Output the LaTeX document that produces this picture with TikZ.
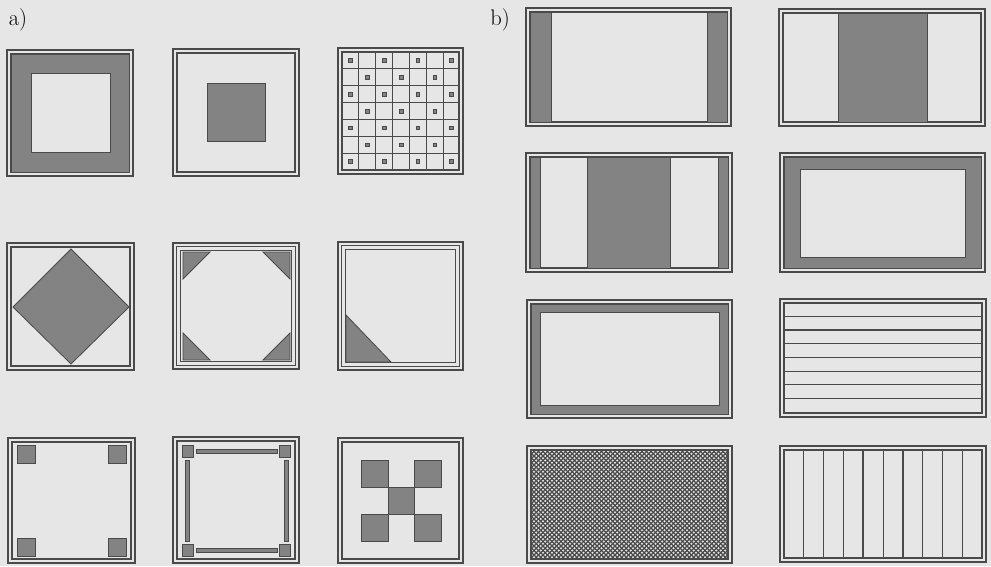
\documentclass[tikz,border=0pt]{standalone}
\usepackage{tikz}
\definecolor{paper}{HTML}{E6E6E6}
\definecolor{ink}{HTML}{4A4A4A}
\definecolor{shade}{HTML}{838383}
\tikzset{
  fline/.style={draw=ink, line width=0.75pt},
  gpart/.style={fill=shade, draw=ink, line width=0.6pt},
  wpart/.style={fill=paper, draw=ink, line width=0.6pt},
  thinrule/.style={draw=ink, line width=0.6pt},
  thickrule/.style={draw=ink, line width=1.1pt},
  hatchline/.style={draw=ink, line width=0.85pt},
  plabel/.style={font=\fontsize{16}{18}\selectfont, inner sep=0pt},
}
% double and triple frame round each panel
\newcommand{\frameII}[4]{%
  \draw[fline] (#1,#2) rectangle (#3,#4);
  \draw[fline] (#1+4,#2+4) rectangle (#3-4,#4-4);}
\newcommand{\frameIII}[4]{%
  \draw[fline] (#1,#2) rectangle (#3,#4);
  \draw[fline] (#1+3.7,#2+3.7) rectangle (#3-3.7,#4-3.7);
  \draw[fline] (#1+7.4,#2+7.4) rectangle (#3-7.4,#4-7.4);}
\begin{document}
\begin{tikzpicture}[x=0.025cm, y=-0.025cm]
  \useasboundingbox (0,0) rectangle (991,566);
  \fill[paper] (0,0) rectangle (991,566);
  \node[plabel] (la) at (18,20) {a)};
  \node[plabel] (lb) at (500,20) {b)};

  % --- a) row 1
  \frameII{7}{50}{133}{176}
  \draw[gpart] (11,54) rectangle (129,172);
  \draw[wpart] (31,73) rectangle (110,152);

  \frameII{173}{49}{299}{176}
  \draw[gpart] (207,83) rectangle (265,141);

  \frameII{338}{48}{463}{174}
  \foreach \i in {1,...,6} {
    \draw[thinrule] (342+\i*16.86,52) -- (342+\i*16.86,170);
    \draw[thinrule] (342,52+\i*16.86) -- (459,52+\i*16.86);
  }
  \foreach \i in {0,...,6}
    \foreach \j in {0,...,6} {
      \pgfmathtruncatemacro{\odd}{mod(\i+\j,2)}
      \ifnum\odd=0
        \draw[gpart, line width=0.4pt] (350.4+\i*16.86-1.8,60.4+\j*16.86-1.8) rectangle ++(3.6,3.6);
      \fi
    }

  % --- a) row 2
  \frameII{7}{243}{134}{370}
  \draw[gpart] (71,249) -- (129,307) -- (71,364) -- (13,307) -- cycle;

  \frameIII{173}{243}{299}{369}
  \draw[gpart] (183,252) -- (210,252) -- (183,279) -- cycle;
  \draw[gpart] (263,252) -- (290,252) -- (290,279) -- cycle;
  \draw[gpart] (183,333) -- (183,360) -- (210,360) -- cycle;
  \draw[gpart] (290,333) -- (290,360) -- (263,360) -- cycle;

  \frameIII{338}{242}{463}{370}
  \draw[gpart] (346,315) -- (346,362) -- (391,362) -- cycle;

  % --- a) row 3
  \frameII{8}{438}{135}{563}
  \draw[gpart] (17,445) rectangle (35,463);
  \draw[gpart] (108,445) rectangle (126,463);
  \draw[gpart] (17,538) rectangle (35,556);
  \draw[gpart] (108,538) rectangle (126,556);

  \frameII{173}{437}{299}{563}
  \draw[gpart] (182,445) rectangle (193,457);
  \draw[gpart] (279,445) rectangle (290,457);
  \draw[gpart] (182,544) rectangle (193,556);
  \draw[gpart] (279,544) rectangle (290,556);
  \draw[gpart] (196,449) rectangle (277,453);
  \draw[gpart] (196,548) rectangle (277,552);
  \draw[gpart] (185,460) rectangle (189,541);
  \draw[gpart] (284,460) rectangle (288,541);

  \frameII{338}{438}{463}{563}
  \draw[gpart] (361,460) rectangle (388,487);
  \draw[gpart] (414,460) rectangle (441,487);
  \draw[gpart] (388,487) rectangle (414,514);
  \draw[gpart] (361,514) rectangle (388,541);
  \draw[gpart] (414,514) rectangle (441,541);

  % --- b) column 1
  \frameII{526}{8}{731}{126}
  \draw[gpart] (530,12) rectangle (551,122);
  \draw[gpart] (707,12) rectangle (727,122);

  \frameII{526}{153}{732}{272}
  \draw[gpart] (530,157) rectangle (540,268);
  \draw[gpart] (587,157) rectangle (670,268);
  \draw[gpart] (718,157) rectangle (728,268);

  \frameII{527}{300}{732}{418}
  \draw[gpart] (531,304) rectangle (728,414);
  \draw[wpart] (540,312) rectangle (719,405);

  \frameII{527}{446}{732}{563}
  \begin{scope}
    \clip (531,450) rectangle (728,559);
    \fill[paper] (531,450) rectangle (728,559);
    \foreach \c in {420,424.5,...,735} {
      \draw[hatchline] (\c,450) -- (\c+109,559);
      \draw[hatchline] (\c+111,450) -- (\c+2,559);
    }
  \end{scope}
  \draw[fline] (531,450) rectangle (728,559);

  % --- b) column 2
  \frameII{779}{9}{985}{126}
  \draw[gpart] (838,13) rectangle (927,122);

  \frameII{780}{153}{985}{272}
  \draw[gpart] (784,157) rectangle (981,268);
  \draw[wpart] (800,169) rectangle (965,257);

  \frameII{780}{299}{986}{417}
  \foreach \k in {1,...,7} {
    \pgfmathtruncatemacro{\odd}{mod(\k,2)}
    \ifnum\odd=0
      \draw[thickrule] (784,303+\k*13.6) -- (982,303+\k*13.6);
    \else
      \draw[thinrule] (784,303+\k*13.6) -- (982,303+\k*13.6);
    \fi
  }

  \frameII{780}{446}{986}{562}
  \foreach \k in {1,...,9} {
    \pgfmathtruncatemacro{\odd}{mod(\k,2)}
    \ifnum\odd=0
      \draw[thickrule] (784+\k*19.8,450) -- (784+\k*19.8,558);
    \else
      \draw[thinrule] (784+\k*19.8,450) -- (784+\k*19.8,558);
    \fi
  }
\end{tikzpicture}
\end{document}
